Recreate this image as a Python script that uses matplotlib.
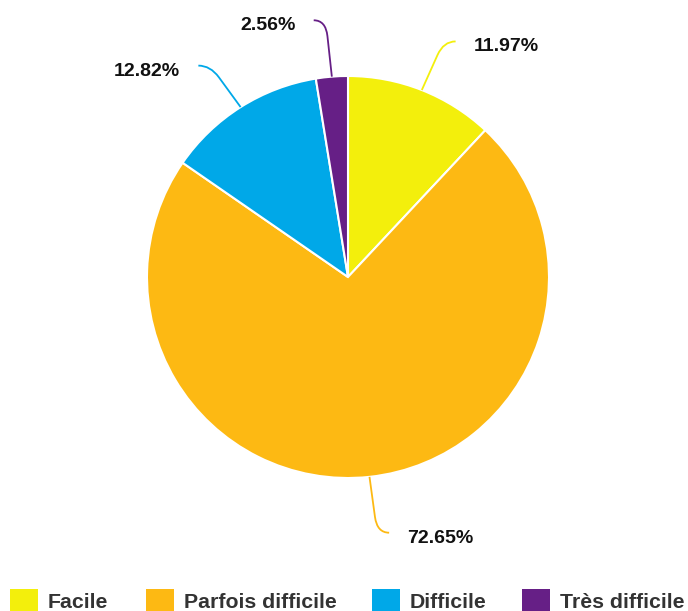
import numpy as np
import matplotlib
matplotlib.use("Agg")
import matplotlib.pyplot as plt
from matplotlib.path import Path
from matplotlib.patches import PathPatch, Rectangle

categories = ["Facile", "Parfois difficile", "Difficile", "Très difficile"]
values = [11.97, 72.65, 12.82, 2.56]
colors = ["#F3EF0C", "#FDB913", "#00A8E8", "#661F86"]

W, H = 688, 611
fig = plt.figure(figsize=(W / 100, H / 100), dpi=100)
ax = fig.add_axes([0, 0, 1, 1])

cx, cy, R = 348, 611 - 277, 201
wedges, _ = ax.pie(values, colors=colors, startangle=90, counterclock=False,
                   center=(cx, cy), radius=R, frame=True,
                   wedgeprops=dict(edgecolor="white", linewidth=1.5))
ax.set_xlim(0, W)
ax.set_ylim(0, H)
ax.set_aspect("equal")
ax.axis("off")

lab_font = ["Liberation Sans", "DejaVu Sans"]
R2 = R + 58
for w, v, c in zip(wedges, values, colors):
    mid = (w.theta1 + w.theta2) / 2
    ang = np.deg2rad(mid)
    ux, uy = np.cos(ang), np.sin(ang)
    s = 1 if ux >= 0 else -1
    # shift end angle a little toward the horizontal
    shift = 3.0 * (1 if (s > 0) == (uy > 0) else -1)
    ang2 = np.deg2rad(mid - shift)
    p0 = (cx + R * ux, cy + R * uy)
    p2 = (cx + R2 * np.cos(ang2), cy + R2 * np.sin(ang2))
    p1 = (p2[0] - s * 12, p2[1])
    pa = (p0[0] + 0.72 * (p1[0] - p0[0]), p0[1] + 0.72 * (p1[1] - p0[1]))
    path = Path([p0, pa, p1, p2], [Path.MOVETO, Path.LINETO, Path.CURVE3, Path.CURVE3])
    ax.add_patch(PathPatch(path, fill=False, edgecolor=c, linewidth=1.3))
    ax.text(p2[0] + s * 18, p2[1] - 5.5, f"{v:.2f}%", ha="left" if s > 0 else "right",
            va="center", fontsize=14, fontweight="bold", color="#111111",
            family=lab_font)

# legend
sq_x = [10, 146, 372, 522]
for x, c, name in zip(sq_x, colors, categories):
    ax.add_patch(Rectangle((x, 0), 28, 22, facecolor=c, edgecolor="none"))
    ax.text(x + 38, 9, name, ha="left", va="center", fontsize=15.3,
            fontweight="bold", color="#333333", family=lab_font)

fig.savefig("out.png", dpi=100)
